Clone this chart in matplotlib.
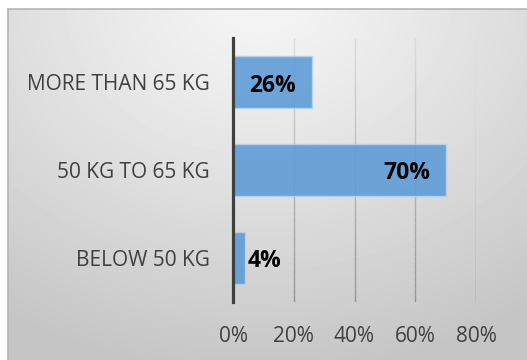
import numpy as np
import matplotlib.pyplot as plt
from matplotlib.collections import LineCollection

categories = ["BELOW 50 KG", "50 KG TO 65 KG", "MORE THAN 65 KG"]
shares = [0.04, 0.70, 0.26]
label_pos = ["outside", "inside_end", "center"]
x_ticks = [0.0, 0.2, 0.4, 0.6, 0.8]
x_ticklabels = ["0%", "20%", "40%", "60%", "80%"]

plt.rcParams['font.family'] = ['Open Sans', 'DejaVu Sans']

W, H = 527, 360
fig = plt.figure(figsize=(W / 100, H / 100), dpi=100)
fig.patch.set_facecolor("white")

# grey gradient panel behind the chart
bg = fig.add_axes([8 / W, 0, 1 - 8 / W, (H - 9) / H], zorder=0)
yy, xx = np.mgrid[0:351, 0:519]
d = np.sqrt(((xx - 250) / 1.0) ** 2 + ((yy + 10) * 1.25) ** 2)
val = 0.96 - 0.19 * np.clip(d / 470, 0, 1) ** 1.2
bg.imshow(val, cmap="gray", vmin=0, vmax=1, aspect="auto", interpolation="bilinear")
bg.set_xticks([])
bg.set_yticks([])
for s in ["right", "bottom"]:
    bg.spines[s].set_visible(False)
for s in ["top", "left"]:
    bg.spines[s].set_color("#b5b5b5")
    bg.spines[s].set_linewidth(1.2)

ax = fig.add_axes([233 / W, 1 - 302 / H, (476 - 233) / W, (302 - 38) / H], zorder=1)
ax.patch.set_alpha(0)
ax.set_xlim(0, 0.8)
ax.set_ylim(-0.5, len(categories) - 0.5)

# gridlines fading from light (top) to darker (bottom)
nseg = 40
ys = np.linspace(-0.5, len(categories) - 0.5, nseg + 1)
for xv in x_ticks[1:]:
    segs = [[(xv, ys[i]), (xv, ys[i + 1])] for i in range(nseg)]
    t = np.linspace(0, 1, nseg)
    cols = [(c, c, c) for c in 0.58 + 0.28 * t]
    ax.add_collection(LineCollection(segs, colors=cols, linewidths=1.0, zorder=1))

ypos = np.arange(len(categories))
bars = ax.barh(ypos, shares, height=0.59, color="#5c9bd6", alpha=0.88,
               edgecolor="#b7d3ee", linewidth=1.0, zorder=2)

for y, v, mode in zip(ypos, shares, label_pos):
    txt = "%d%%" % round(v * 100)
    kw = dict(va="center", fontsize=16.5, fontweight="bold", color="black", zorder=3)
    if mode == "center":
        ax.text(v / 2, y - 0.04, txt, ha="center", **kw)
    elif mode == "inside_end":
        ax.text(v - 0.05, y - 0.03, txt, ha="right", **kw)
    else:
        ax.text(v + 0.008, y - 0.03, txt, ha="left", **kw)

ax.set_yticks(ypos)
ax.set_yticklabels(categories)
ax.set_xticks(x_ticks)
ax.set_xticklabels(x_ticklabels)
ax.tick_params(axis="y", length=0, pad=17, labelsize=15, labelcolor="#404040")
ax.tick_params(axis="x", length=0, pad=17, labelsize=15, labelcolor="#404040")

for s in ["top", "right", "bottom"]:
    ax.spines[s].set_visible(False)
ax.spines["left"].set_color("#404040")
ax.spines["left"].set_linewidth(2.3)
ax.spines["left"].set_zorder(4)

fig.savefig("out.png", dpi=100)
